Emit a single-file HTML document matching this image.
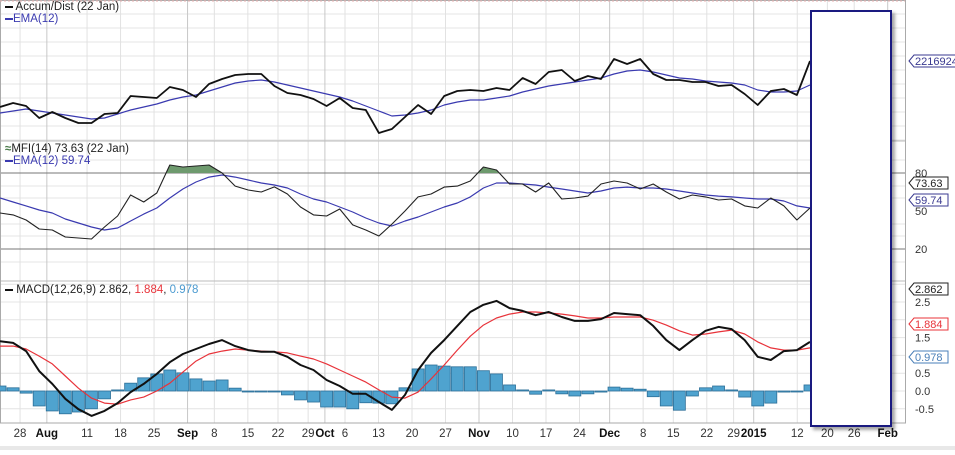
<!DOCTYPE html>
<html><head><meta charset="utf-8">
<style>
body{margin:0;background:#fff;width:955px;height:450px;overflow:hidden;font-family:"Liberation Sans",Verdana,sans-serif;}
svg text{font-family:"Liberation Sans",sans-serif;}
</style></head>
<body>
<svg id="chart" width="955" height="450" viewBox="0 0 955 450" xmlns="http://www.w3.org/2000/svg">
<rect x="0" y="0" width="955" height="450" fill="#fff"/>
<g id="grid"></g>
<g id="marks"></g>
<g id="labels"></g>
</svg>
<script>
// ---- data (63 samples, ~every 2 trading days, 24 Jul 2014 .. 22 Jan 2015)
const adLine=[1757,1797,1767,1647,1707,1647,1597,1597,1687,1697,1867,1857,1847,1957,1927,1857,1987,2037,2077,2087,2087,1967,1897,1877,1837,1767,1847,1747,1727,1497,1537,1657,1777,1687,1867,1917,1927,1917,1947,1927,2047,1987,2107,2127,2017,2067,2037,2237,2187,2237,2087,2027,2027,2007,2007,1967,1977,1887,1777,1917,1937,1877,2217];
const adEma=[1697,1717,1737,1717,1697,1677,1657,1637,1647,1687,1727,1757,1787,1827,1857,1877,1917,1957,1997,2017,2027,2007,1977,1947,1917,1887,1857,1817,1767,1717,1667,1677,1697,1727,1777,1807,1827,1827,1847,1867,1907,1937,1967,1987,2007,2027,2047,2087,2117,2127,2107,2077,2047,2037,2017,2007,1997,1977,1927,1907,1907,1917,1977];
const mfi=[48.4,46.9,42.9,35.8,35.0,29.5,28.7,27.9,37.4,46.1,62.6,57.1,64.2,86.3,84.7,85.5,86.3,80,69.7,66.6,65.0,69.0,63.4,53.2,46.9,46.1,51.6,39.0,35.0,30.3,39.7,50.0,61.1,63.4,68.9,69.7,73.7,84.7,82.4,71.3,71.3,65.0,72.1,59.5,60.3,61.8,71.3,73.7,72.1,67.4,71.3,65.0,59.5,62.6,61.1,58.7,59.5,54.0,52.4,60.3,54.0,42.9,52.4];
const mfiEma=[60.3,57.1,54.0,50.8,48.4,43.7,40.5,37.4,35.0,36.6,42.1,47.6,52.4,60.3,67.4,72.9,76.8,78.4,76.8,74.5,72.1,70.5,68.2,63.4,59.5,57.1,53.2,49.2,44.5,40.5,38.2,42.1,45.3,49.2,53.2,56.3,61.1,68.2,72.1,72.1,71.3,70.5,68.9,67.4,65.8,64.2,65.8,68.2,68.9,68.2,68.2,67.4,65.8,64.2,62.6,61.8,61.1,60.3,59.5,59.5,57.9,54.0,52.4];
const macd=[1.40,1.35,1.12,0.56,0.20,-0.22,-0.51,-0.70,-0.56,-0.34,-0.03,0.20,0.48,0.81,1.04,1.18,1.32,1.43,1.26,1.15,1.10,1.10,0.96,0.73,0.59,0.31,0.14,-0.08,-0.08,-0.31,-0.53,-0.11,0.59,1.07,1.43,1.83,2.22,2.42,2.53,2.33,2.25,2.13,2.22,2.08,1.97,1.97,2.02,2.19,2.16,2.13,1.83,1.43,1.15,1.43,1.69,1.80,1.74,1.43,0.96,0.87,1.12,1.15,1.38];
const signal=[1.26,1.26,1.18,0.98,0.76,0.42,0.08,-0.20,-0.34,-0.37,-0.25,-0.17,0,0.22,0.53,0.84,1.04,1.12,1.18,1.15,1.12,1.10,1.07,0.98,0.90,0.76,0.59,0.42,0.25,0.03,-0.17,-0.20,-0.03,0.34,0.73,1.15,1.54,1.85,2.05,2.16,2.22,2.22,2.19,2.16,2.11,2.05,2.05,2.08,2.08,2.08,1.99,1.85,1.69,1.57,1.60,1.66,1.71,1.60,1.38,1.21,1.15,1.15,1.21];
const hist=[0.14,0.09,-0.06,-0.42,-0.56,-0.64,-0.59,-0.50,-0.22,0.03,0.22,0.37,0.48,0.59,0.51,0.34,0.28,0.31,0.08,0,-0.02,0,-0.11,-0.25,-0.31,-0.45,-0.45,-0.50,-0.33,-0.34,-0.36,0.09,0.62,0.73,0.70,0.68,0.68,0.57,0.48,0.17,0.03,-0.09,0.03,-0.08,-0.14,-0.08,-0.03,0.11,0.08,0.05,-0.16,-0.42,-0.54,-0.14,0.09,0.14,0.03,-0.17,-0.42,-0.34,-0.03,0,0.17];
const dateLabels=["28","Aug","11","18","25","Sep","8","15","22","29","Oct","6","13","20","27","Nov","10","17","24","Dec","8","15","22","29","2015","12","20","26","Feb"];
const dateWeeks=[0.3,1.1,2.3,3.3,4.3,5.3,6.1,7.1,8.0,8.9,9.4,10.0,11.0,12.0,13.0,14.0,15.0,16.0,17.0,17.9,18.9,19.8,20.8,21.6,22.2,23.5,24.4,25.2,26.2];
const boldLabels=["Aug","Sep","Oct","Nov","Dec","2015","Feb"];
const mfiTicks=[80,50,20];
const macdTicks=[2.5,2.0,1.5,0.5,0.0,-0.5];

const NS="http://www.w3.org/2000/svg";
const grid=document.getElementById('grid'),marks=document.getElementById('marks'),labels=document.getElementById('labels');
function el(tag,attrs,parent){const e=document.createElementNS(NS,tag);for(const k in attrs)e.setAttribute(k,attrs[k]);parent.appendChild(e);return e;}
const N=adLine.length;
const xS=i=>i*810/(N-1);
const xW=w=>10+w*33.5;
function yADf(v){return (2827-v)/10;}
const yMFI=v=>173+(80-v)*1.267;
const yMACD=v=>391-v*35.6;
const PR=905;

// grid
for(let y=14;y<141;y+=14){const l=el('line',{x1:0,x2:PR,y1:y,y2:y,stroke:'#e4e4e4'},grid);}
[160,186,198,224,236,262].forEach(y=>{const l=el('line',{x1:0,x2:PR,y1:y,y2:y,stroke:'#e4e4e4'},grid);});
macdTicks.concat([3.0,1.0]).forEach(t=>{const l=el('line',{x1:0,x2:PR,y1:yMACD(t),y2:yMACD(t),stroke:'#e4e4e4'},grid);});
dateWeeks.forEach((w,i)=>{const x=xW(w);const b=boldLabels.includes(dateLabels[i]);const l=el('line',{x1:x,x2:x,y1:0,y2:423,stroke:b?'#c8c8c8':'#e2e2e2'},grid);});
[141,281].forEach(y=>{const l=el('line',{x1:0,x2:PR,y1:y,y2:y,stroke:'#bbb'},grid);});
mfiTicks.filter(t=>t!==50).forEach(t=>{const l=el('line',{x1:0,x2:PR,y1:yMFI(t),y2:yMFI(t),stroke:'#777'},grid);});
{const f=el('rect',{x:0.5,y:0.5,width:PR,height:422.5,fill:'none',stroke:'#aaa'},grid);}
{const t=el('line',{x1:0,x2:PR,y1:1,y2:1,stroke:'#e8b0b0','stroke-dasharray':'2,2'},grid);}

function path(arr,fx,fy){return arr.map((v,i)=>(i?'L':'M')+fx(i).toFixed(1)+','+fy(v).toFixed(1)).join('');}

// MFI overbought fill
{let d='';for(let i=0;i<N-1;i++){const a=mfi[i],b=mfi[i+1];if(a>80||b>80){const x0=xS(i),x1=xS(i+1);let sx=x0,ex=x1,sv=a,ev=b;if(a<=80){sx=x0+(80-a)/(b-a)*(x1-x0);sv=80;}if(b<=80){ex=x0+(80-a)/(b-a)*(x1-x0);ev=80;}d+='M'+sx+','+yMFI(80)+'L'+sx+','+yMFI(sv)+'L'+ex+','+yMFI(ev)+'L'+ex+','+yMFI(80)+'Z';}}
const p=el('path',{d:d,fill:'#6e9a6e',stroke:'none'},marks);}

// histogram
hist.forEach((v,i)=>{const x=xS(i);const y0=yMACD(0),y1=yMACD(v);const r=el('rect',{x:x-6,y:Math.min(y0,y1),width:12,height:Math.max(1,Math.abs(y1-y0)),fill:'#4fa3cf',stroke:'#2c6f98','stroke-width':0.8},marks);});

function line(arr,fy,color,w,name){const p=el('path',{d:path(arr,xS,fy),fill:'none',stroke:color,'stroke-width':w,'stroke-linejoin':'round'},marks);}
line(adEma,yADf,'#3a3ab0',1.2,'ad-ema-line');
line(adLine,yADf,'#111',1.8,'accum-dist-line');
line(mfiEma,yMFI,'#3a3ab0',1.2,'mfi-ema-line');
line(mfi,yMFI,'#222',1.1,'mfi-line');
line(signal,yMACD,'#e8333a',1.2,'macd-signal-line');
line(macd,yMACD,'#111',2,'macd-line');

// x-axis labels
dateLabels.forEach((t,i)=>{const b=boldLabels.includes(t);const e=el('text',{x:xW(dateWeeks[i]),y:437,'font-size':11.5,'text-anchor':'middle','font-weight':b?'bold':'normal',fill:b?'#111':'#333'},labels);e.textContent=t;});
{const s=el('rect',{x:0,y:446,width:955,height:4,fill:'#e8e8e8'},labels);}

// right axis ticks
function rtext(txt,y,color,boxed,name){const e=el('text',{x:915,y:y+4,'font-size':11,fill:color},labels);e.textContent=txt;
 if(boxed){const w=txt.length*6.2+3;const b=el('path',{d:`M909,${y} L914,${y-6} L${914+w},${y-6} L${914+w},${y+6} L914,${y+6} Z`,fill:'none',stroke:color,'stroke-width':1},labels);}}
mfiTicks.forEach(t=>rtext(String(t),yMFI(t),'#333',false,'mfi-tick-label'));
macdTicks.forEach(t=>{if(t!==2.0)rtext(t.toFixed(1),yMACD(t),'#333',false,'macd-tick-label');});
rtext('2216924',yADf(adLine[N-1]),'#3a3a90',true,'ad-value-tag');
rtext('73.63',183,'#222',true,'mfi-value-tag');
rtext('59.74',200,'#3a3a90',true,'mfi-ema-value-tag');
rtext('2.862',289,'#222',true,'macd-value-tag');
rtext('1.884',324,'#e8333a',true,'signal-value-tag');
rtext('0.978',357,'#4a7fb8',true,'hist-value-tag');
</script>
<div style="position:absolute;left:0;top:0;font-size:11.5px;color:#222;line-height:13px;">
 <div style="position:absolute;left:5px;top:1px;white-space:nowrap;"><span style="display:inline-block;width:8px;height:2px;background:#111;vertical-align:middle;"></span> Accum/Dist (22 Jan)</div>
 <div style="position:absolute;left:5px;top:13px;white-space:nowrap;color:#3a3ab0;"><span style="display:inline-block;width:8px;height:2px;background:#3a3ab0;vertical-align:middle;"></span>EMA(12)</div>
 <div style="position:absolute;left:5px;top:143px;white-space:nowrap;"><span style="color:#4a7a4a;font-weight:bold;">&#8776;</span>MFI(14) 73.63 (22 Jan)</div>
 <div style="position:absolute;left:5px;top:155px;white-space:nowrap;color:#3a3ab0;"><span style="display:inline-block;width:8px;height:2px;background:#3a3ab0;vertical-align:middle;"></span>EMA(12) 59.74</div>
 <div style="position:absolute;left:5px;top:284px;white-space:nowrap;"><span style="display:inline-block;width:8px;height:2px;background:#111;vertical-align:middle;"></span> MACD(12,26,9) 2.862, <span style="color:#e8333a">1.884</span>, <span style="color:#4a9ad0">0.978</span></div>
 <div style="position:absolute;left:810px;top:10px;width:78px;height:413px;border:2px solid #1a1a80;background:#fff;box-shadow:3px 3px 3px rgba(0,0,0,0.35);"></div>
</div>
</body></html>
